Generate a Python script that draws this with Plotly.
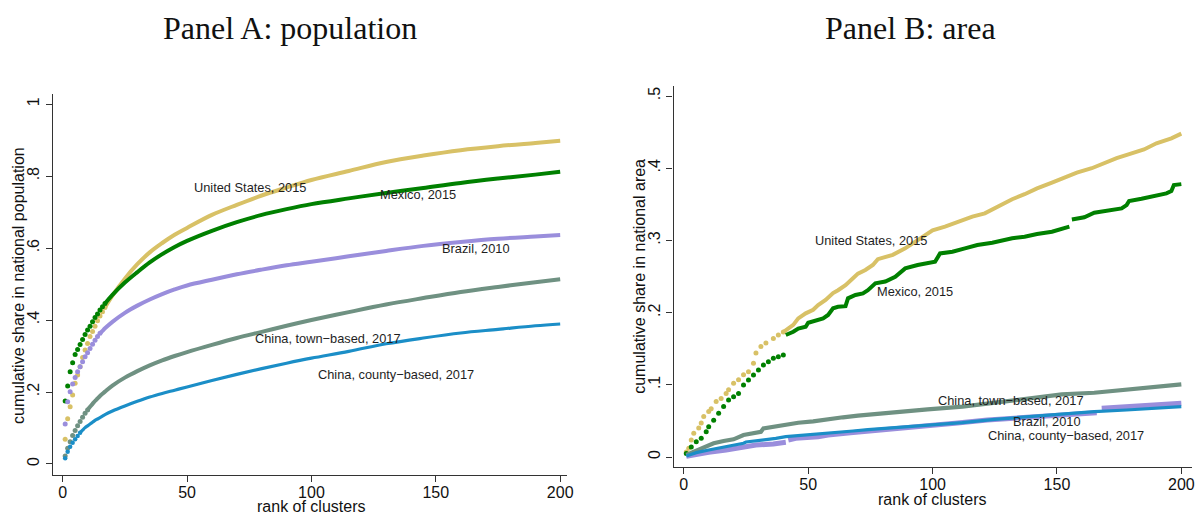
import plotly.graph_objects as go

# ---------------- data ----------------
# Panel A: cumulative share of national population by cluster rank
rank_pop = [1, 2, 3, 4, 5, 6, 7, 8, 9, 10, 11, 12, 13, 14, 15, 16, 17,
            20, 25, 30, 35, 40, 45, 50, 60, 70, 80, 90, 100, 115, 130, 145, 160, 175, 190, 200]
us_pop = [0.069, 0.126, 0.159, 0.192, 0.224, 0.247, 0.270, 0.296, 0.317, 0.335, 0.354, 0.368, 0.383, 0.398,
          0.411, 0.423, 0.435, 0.468, 0.515, 0.555, 0.588, 0.614, 0.637, 0.656, 0.692, 0.720, 0.746, 0.768,
          0.789, 0.814, 0.839, 0.857, 0.872, 0.883, 0.892, 0.898]
mex_pop = [0.175, 0.217, 0.256, 0.281, 0.304, 0.318, 0.332, 0.346, 0.360, 0.372, 0.383, 0.395, 0.407, 0.417,
           0.428, 0.437, 0.446, 0.470, 0.504, 0.533, 0.560, 0.583, 0.603, 0.620, 0.648, 0.672, 0.692, 0.708,
           0.722, 0.738, 0.753, 0.767, 0.781, 0.793, 0.804, 0.812]
bra_pop = [0.111, 0.173, 0.201, 0.222, 0.240, 0.256, 0.270, 0.284, 0.298, 0.309, 0.321, 0.333, 0.344, 0.354,
           0.363, 0.370, 0.377, 0.395, 0.420, 0.440, 0.457, 0.472, 0.485, 0.496, 0.512, 0.527, 0.540, 0.552,
           0.562, 0.577, 0.592, 0.606, 0.617, 0.626, 0.632, 0.636]
town_pop = [0.022, 0.044, 0.062, 0.079, 0.093, 0.106, 0.118, 0.130, 0.141, 0.150, 0.159, 0.167, 0.175, 0.182,
            0.189, 0.195, 0.201, 0.218, 0.240, 0.258, 0.274, 0.288, 0.300, 0.311, 0.331, 0.350, 0.367, 0.384,
            0.400, 0.422, 0.443, 0.461, 0.478, 0.492, 0.505, 0.513]
county_pop = [0.016, 0.034, 0.048, 0.059, 0.069, 0.078, 0.087, 0.094, 0.101, 0.106, 0.111, 0.116, 0.121, 0.125,
              0.129, 0.133, 0.137, 0.147, 0.161, 0.174, 0.186, 0.196, 0.205, 0.214, 0.232, 0.249, 0.265, 0.280,
              0.294, 0.313, 0.334, 0.350, 0.364, 0.374, 0.384, 0.389]

# Panel B: cumulative share of national area by cluster rank (None = break in the curve)
us_area_rank = [1, 2, 3, 4, 6, 7, 8, 10, 11, 13, 15, 17, 18, 20, 22, 24, 26, 28, 29, 31, 33, 36, 38, 40, 44, 46,
                49, 52, 54, 57, 60, 62, 65, 68, 70, 73, 76, 78, 84, 89, 94, 100, 105, 110, 116, 121, 126, 132,
                137, 142, 148, 153, 158, 164, 169, 174, 180, 185, 190, 196, 200]
us_area = [0.007, 0.012, 0.0235, 0.033, 0.040, 0.047, 0.056, 0.063, 0.067, 0.077, 0.081, 0.088, 0.093, 0.102,
           0.107, 0.114, 0.118, 0.130, 0.144, 0.153, 0.158, 0.164, 0.169, 0.173, 0.183, 0.192, 0.199, 0.204,
           0.2105, 0.2175, 0.227, 0.231, 0.238, 0.2475, 0.254, 0.259, 0.266, 0.274, 0.280, 0.289, 0.3005, 0.314,
           0.319, 0.326, 0.333, 0.3375, 0.3467, 0.357, 0.364, 0.372, 0.380, 0.387, 0.394, 0.400, 0.407, 0.414,
           0.4206, 0.426, 0.4345, 0.4414, 0.448]
mex_area_rank = [1, 3, 5, 7, 9, 10, 12, 14, 16, 18, 20, 22, 24, 26, 28, 30, 32, 34, 36, 38, 40, 40.5, 41, 44,
                 46, 49, 50, 53, 56, 58, 60, 62, 65, 66, 69, 72, 74, 77, 81, 85, 89, 94, 101, 103, 108, 113, 118,
                 124, 132, 137, 142, 148, 153, 155, 155.5, 156, 161, 165, 170, 176, 178, 179, 184, 190, 194,
                 196, 197, 200]
mex_area = [0.005, 0.014, 0.021, 0.026, 0.035, 0.042, 0.051, 0.0605, 0.070, 0.079, 0.0835, 0.088, 0.0997,
            0.1066, 0.1136, 0.1205, 0.1274, 0.132, 0.1367, 0.139, 0.1413, None, 0.169, 0.1735, 0.178, 0.1805,
            0.186, 0.1888, 0.192, 0.1967, 0.206, 0.208, 0.209, 0.2198, 0.2244, 0.2267, 0.231, 0.2405, 0.243,
            0.2497, 0.2613, 0.266, 0.2705, 0.282, 0.2844, 0.289, 0.2936, 0.2968, 0.3029, 0.3051, 0.3089, 0.312,
            0.318, 0.319, None, 0.329, 0.332, 0.3384, 0.341, 0.3444, 0.349, 0.3546, 0.3578, 0.3615, 0.3652,
            0.3684, 0.3767, 0.378]
bra_area_rank = [1, 5, 10, 17, 24, 29, 36, 41, 41.5, 42, 45, 54, 58, 67, 72, 82, 90, 96, 100, 109, 122, 138,
                 152, 166, 167, 168, 178, 192, 200]
bra_area = [0.001, 0.0042, 0.0065, 0.0097, 0.0143, 0.0166, 0.018, 0.0203, None, 0.0235, 0.026, 0.0282, 0.0305,
            0.0337, 0.035, 0.039, 0.0411, 0.0429, 0.044, 0.0466, 0.0512, 0.055, 0.0582, 0.0614, None, 0.0674,
            0.0697, 0.072, 0.0743]
town_area_rank = [1, 4, 8, 12, 16, 20, 24, 28, 31, 32, 36, 41, 46, 52, 57, 64, 70, 77, 84, 90, 98, 112, 125,
                  138, 152, 165, 178, 192, 200]
town_area = [0.003, 0.0074, 0.0143, 0.019, 0.0222, 0.0245, 0.0305, 0.0328, 0.035, 0.0397, 0.042, 0.0452,
             0.0475, 0.0494, 0.0522, 0.055, 0.0572, 0.0596, 0.0619, 0.0637, 0.066, 0.0697, 0.0752, 0.0813,
             0.0868, 0.089, 0.0937, 0.0974, 0.1007]
county_area_rank = [1, 5, 10, 17, 24, 25, 32, 37, 41, 48, 54, 61, 68, 74, 82, 90, 98, 112, 125, 138, 152, 165,
                    178, 192, 200]
county_area = [0.0014, 0.006, 0.0097, 0.0143, 0.019, 0.0208, 0.0235, 0.0259, 0.0282, 0.0300, 0.0320, 0.0340,
               0.0360, 0.0380, 0.0400, 0.0425, 0.0435, 0.0475, 0.0522, 0.0558, 0.0596, 0.0628, 0.0651, 0.0683,
               0.0697]

labels = ["United States, 2015", "Mexico, 2015", "Brazil, 2010",
          "China, town-based, 2017", "China, county-based, 2017"]

# ---------------- style ----------------
W, H = 1202, 514
C_US, C_MEX, C_BRA, C_TOWN, C_COUNTY = "#D8C166", "#008000", "#9A8EDC", "#6F9182", "#1B8EC7"
SANS = "Liberation Sans, Arial, sans-serif"
SERIF = "Liberation Serif, Times New Roman, serif"
INK = "#1e1e1e"

fig = go.Figure()


def add_curve(xa, ya, ranks, vals, color, dots_until, line_from, width=4.0, size=5.0, shape="linear"):
    """Early ranks as separate dots, the rest as a continuous band."""
    dr = [r for r, v in zip(ranks, vals) if r <= dots_until and v is not None]
    dv = [v for r, v in zip(ranks, vals) if r <= dots_until and v is not None]
    lr = [r for r in ranks if r >= line_from]
    lv = [v for r, v in zip(ranks, vals) if r >= line_from]
    if lr:
        fig.add_trace(go.Scatter(x=lr, y=lv, xaxis=xa, yaxis=ya, mode="lines",
                                 line=dict(color=color, width=width, shape=shape),
                                 connectgaps=False, hoverinfo="skip"))
    if dr:
        fig.add_trace(go.Scatter(x=dr, y=dv, xaxis=xa, yaxis=ya, mode="markers",
                                 marker=dict(color=color, size=size, line=dict(width=0)),
                                 hoverinfo="skip"))


# Panel A
add_curve("x", "y", rank_pop, us_pop, C_US, 17, 17, shape="spline")
add_curve("x", "y", rank_pop, mex_pop, C_MEX, 17, 17, shape="spline")
add_curve("x", "y", rank_pop, bra_pop, C_BRA, 15, 15, shape="spline")
add_curve("x", "y", rank_pop, town_pop, C_TOWN, 10, 10, shape="spline")
add_curve("x", "y", rank_pop, county_pop, C_COUNTY, 7, 7, width=3.2, size=4.5, shape="spline")

# Panel B
add_curve("x2", "y2", us_area_rank, us_area, C_US, 40, 40)
add_curve("x2", "y2", mex_area_rank, mex_area, C_MEX, 40, 41)
add_curve("x2", "y2", bra_area_rank, bra_area, C_BRA, 0, 0, width=5)
add_curve("x2", "y2", town_area_rank, town_area, C_TOWN, 0, 0, width=4.2)
add_curve("x2", "y2", county_area_rank, county_area, C_COUNTY, 0, 0, width=3.2)

axis_common = dict(showline=True, linecolor="#333333", linewidth=1.3, ticks="outside", ticklen=6,
                   tickwidth=1.2, tickcolor="#333333", showgrid=False, zeroline=False,
                   tickfont=dict(family=SANS, size=16, color="#111111"))

fig.update_layout(
    width=W, height=H, margin=dict(l=0, r=0, t=0, b=0),
    paper_bgcolor="white", plot_bgcolor="white", showlegend=False,
    xaxis=dict(domain=[53 / W, 570 / W], range=[-4, 202.8], anchor="y",
               tickvals=[0, 50, 100, 150, 200], ticklabelstandoff=-3, **axis_common),
    yaxis=dict(domain=[1 - 475 / H, 1 - 94 / H], range=[-0.0306, 1.028], anchor="x",
               tickvals=[0, 0.2, 0.4, 0.6, 0.8, 1], ticktext=["0", ".2", ".4", ".6", ".8", "1"],
               tickangle=-90, **axis_common),
    xaxis2=dict(domain=[677 / W, 1198 / W], range=[-4.1, 204.3], anchor="y2",
                tickvals=[0, 50, 100, 150, 200], ticklabelstandoff=-3, **axis_common),
    yaxis2=dict(domain=[1 - 467 / H, 1 - 86 / H], range=[-0.01385, 0.5139], anchor="x2",
                tickvals=[0, 0.1, 0.2, 0.3, 0.4, 0.5], ticktext=["0", ".1", ".2", ".3", ".4", ".5"],
                tickangle=-90, **axis_common),
)


def paper_text(text, px, py, size, family, angle=0):
    fig.add_annotation(text=text, x=px / W, y=1 - py / H, xref="paper", yref="paper",
                       xanchor="center", yanchor="middle", showarrow=False, textangle=angle,
                       font=dict(family=family, size=size, color="#111111"))


# Panel titles and axis titles
paper_text("Panel A: population", 291, 28, 32, SERIF)
paper_text("Panel B: area", 915, 28, 32, SERIF)
paper_text("cumulative share in national population", 18, 285, 16, SANS, angle=-90)
paper_text("cumulative share in national area", 642, 276, 16, SANS, angle=-90)
paper_text("rank of clusters", 313, 506, 16, SANS)
paper_text("rank of clusters", 937, 499, 16, SANS)

# Series labels placed next to the curves
pop_label_pos = [(75.2, 0.767), (142.8, 0.749), (166.0, 0.598), (106.8, 0.348), (133.8, 0.249)]
area_label_pos = [(75.1, 0.2996), (92.9, 0.229), (146.2, 0.0489), (131.5, 0.0789), (153.8, 0.0295)]
for (xa, ya, positions) in [("x", "y", pop_label_pos), ("x2", "y2", area_label_pos)]:
    for text, (lx, ly) in zip(labels, positions):
        fig.add_annotation(text=text.replace("-", "\u2212"), x=lx, y=ly, xref=xa, yref=ya,
                           xanchor="center", yanchor="middle", showarrow=False,
                           font=dict(family=SANS, size=12.8, color=INK))

fig.write_html("out.html")
